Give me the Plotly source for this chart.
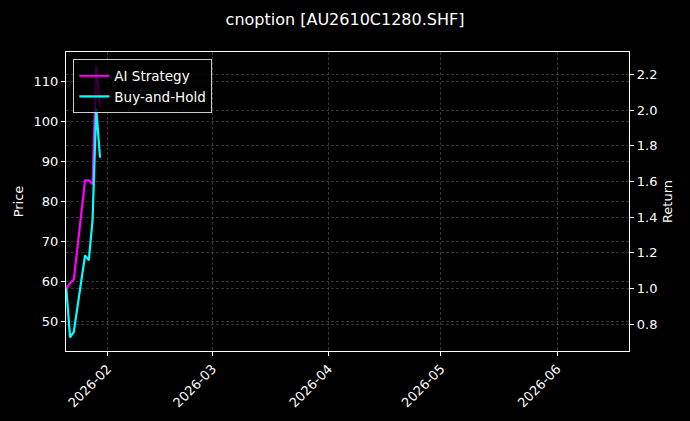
import plotly.graph_objects as go

# trading days shown on the chart
dates = ["2026-01-21", "2026-01-22", "2026-01-23", "2026-01-26",
         "2026-01-27", "2026-01-28", "2026-01-29", "2026-01-30"]

# option close price (left axis, faint, mostly hidden behind the return lines)
price = [59.0, 45.9, 47.3, 66.5, 65.2, 75.5, 113.9, 104.0]

# cumulative returns (right axis)
ai_strategy = [1.0, 1.03, 1.05, 1.606, 1.606, 1.584, 2.249, 2.017]
buy_and_hold = [1.0, 0.726, 0.757, 1.186, 1.158, 1.382, 2.008, 1.733]

FONT = "DejaVu Sans"
GRID = "rgba(128,128,128,0.4)"

fig = go.Figure()
fig.add_trace(go.Scatter(x=dates, y=price, name="Price", mode="lines",
                         line=dict(color="rgba(139,0,0,0.35)", width=2),
                         showlegend=False, yaxis="y"))
fig.add_trace(go.Scatter(x=dates, y=ai_strategy, name="AI Strategy", mode="lines",
                         line=dict(color="#ff00ff", width=2.2), yaxis="y2"))
fig.add_trace(go.Scatter(x=dates, y=buy_and_hold, name="Buy-and-Hold", mode="lines",
                         line=dict(color="#00ffff", width=2.2), yaxis="y2"))

axis_common = dict(showline=True, linecolor="white", linewidth=1.3, mirror=True,
                   ticks="outside", tickcolor="white", ticklen=4,
                   tickfont=dict(color="white", size=13, family=FONT),
                   gridcolor=GRID, griddash="3px,2px", gridwidth=0.5, zeroline=False)

fig.update_layout(
    width=690, height=421,
    paper_bgcolor="black", plot_bgcolor="black",
    margin=dict(l=66, r=61, t=52, b=70),
    font=dict(family=FONT, color="white", size=13),
    title=dict(text="cnoption [AU2610C1280.SHF]", x=0.5, xanchor="center",
               y=0.955, yanchor="middle", font=dict(size=16, color="white", family=FONT)),
    xaxis=dict(axis_common, type="date",
               range=["2026-01-20 22:00", "2026-06-20 05:00"],
               tickvals=["2026-02-01", "2026-03-01", "2026-04-01", "2026-05-01", "2026-06-01"],
               ticktext=["2026-02", "2026-03", "2026-04", "2026-05", "2026-06"],
               tickangle=-45, showgrid=True),
    yaxis=dict(axis_common, range=[42.5, 117.25], dtick=10, showgrid=True,
               title=dict(text="Price", font=dict(size=13, color="white", family=FONT),
                          standoff=6)),
    yaxis2=dict(axis_common, overlaying="y", side="right", range=[0.65, 2.325],
                tick0=0.8, dtick=0.2, tickformat=".1f", showgrid=True,
                title=dict(text="Return", font=dict(size=13, color="white", family=FONT),
                           standoff=6)),
    legend=dict(x=0.013, y=0.975, xanchor="left", yanchor="top",
                bgcolor="rgba(0,0,0,0.8)", bordercolor="#cccccc", borderwidth=1,
                font=dict(size=13.5, color="white", family=FONT), itemwidth=30,
                tracegroupgap=2),
)

# drop the page's default white 8px margin so the figure sits at the corner
fig.write_html("out.html", config={"displayModeBar": False},
               post_script="document.body.style.margin='0';"
                           "document.body.style.background='black';")
